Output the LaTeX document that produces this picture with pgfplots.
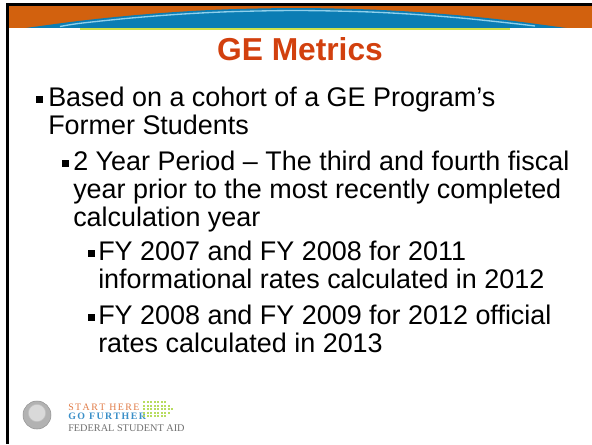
\documentclass[border=0pt]{standalone}
\usepackage{pgfplots}
\pgfplotsset{compat=1.18}
\usepackage{fontspec}
\setmainfont{Liberation Sans}
\newfontfamily\serifl{Liberation Serif}
\definecolor{bandorange}{HTML}{D2610E}
\definecolor{bandblue}{HTML}{0B7DB4}
\definecolor{lightblue}{HTML}{8FD0EC}
\definecolor{ygreen}{HTML}{CFE04A}
\definecolor{titlered}{HTML}{D2400E}
\definecolor{logoorange}{HTML}{E07A45}
\definecolor{logoblue}{HTML}{3A8FC8}
\definecolor{logogrey}{HTML}{707070}
\definecolor{dotgreen}{HTML}{B8DC60}
\newcommand{\body}{\fontsize{20.2pt}{22pt}\selectfont}
\newcommand{\ls}{\kern1.1pt}
\begin{document}
\begin{tikzpicture}
\begin{axis}[
  scale only axis, width=444pt, height=333pt,
  xmin=0, xmax=592, ymin=0, ymax=444, y dir=reverse,
  axis lines=none, clip=true,
]
% black frame
\addplot[fill=black, draw=none] coordinates {(5.5,3) (592,3) (592,5.5) (5.5,5.5)} -- cycle;
\addplot[fill=black, draw=none] coordinates {(5.5,3) (8.5,3) (8.5,444) (5.5,444)} -- cycle;
% orange band
\addplot[fill=bandorange, draw=none] coordinates {(8.5,5.5) (592,5.5) (592,28) (8.5,28)} -- cycle;
% blue lens
\addplot[fill=bandblue, draw=none, smooth] coordinates {
 (20,29) (30,27.4) (80,20.8) (130,15.6) (180,11.7) (230,9.2) (296,8) (362,9.2) (412,11.7) (462,15.6) (512,20.8) (562,27.4) (575,29)} -- cycle;
% light blue highlight
\addplot[draw=lightblue, line width=1pt, smooth] coordinates {
 (60,26.5) (80,23.3) (130,18.1) (180,14.2) (230,11.7) (296,10.5) (362,11.7) (412,14.2) (462,18.1) (512,23.3) (535,26)};
% white below
\addplot[fill=white, draw=none] coordinates {(8.5,28) (592,28) (592,35) (8.5,35)} -- cycle;
% yellow-green line
\addplot[draw=ygreen, line width=1.3pt] coordinates {(80,29) (510,29)};
% title
\node[anchor=base, font=\fontsize{23.8pt}{26pt}\selectfont\bfseries, text=titlered, inner sep=0pt] at (axis cs:300,60) {GE Metrics};
% bullets
\addplot[only marks, mark=square*, mark size=2.2pt, color=black] coordinates {
 (39,99) (65.5,163) (91.5,253) (91.5,317)};
% body text
\node[anchor=base west, font=\body, inner sep=0pt] at (axis cs:48,106) {Based on a cohort of a GE Program’s};
\node[anchor=base west, font=\body, inner sep=0pt] at (axis cs:48,134) {Former Students};
\node[anchor=base west, font=\body, inner sep=0pt] at (axis cs:73,170) {2 Year Period – The third and fourth fiscal};
\node[anchor=base west, font=\body, inner sep=0pt] at (axis cs:73,198) {year prior to the most recently completed};
\node[anchor=base west, font=\body, inner sep=0pt] at (axis cs:73,226) {calculation year};
\node[anchor=base west, font=\body, inner sep=0pt] at (axis cs:98,260) {FY 2007 and FY 2008 for 2011};
\node[anchor=base west, font=\body, inner sep=0pt] at (axis cs:98,288) {informational rates calculated in 2012};
\node[anchor=base west, font=\body, inner sep=0pt] at (axis cs:98,324) {FY 2008 and FY 2009 for 2012 official};
\node[anchor=base west, font=\body, inner sep=0pt] at (axis cs:98,352) {rates calculated in 2013};
% logo seal
\addplot[only marks, mark=*, mark size=10.5pt, mark options={fill=gray!60, draw=gray!85}] coordinates {(37,415)};
\addplot[only marks, mark=*, mark size=6.5pt, mark options={fill=gray!30, draw=gray!50}] coordinates {(37,413)};
\node[anchor=base, font=\fontsize{10pt}{10pt}\selectfont\bfseries\itshape, text=white, inner sep=0pt] at (axis cs:48,428) {22};
% logo text
\node[anchor=base west, font=\serifl\fontsize{7.4pt}{8pt}\selectfont, text=logoorange, inner sep=0pt] at (axis cs:68,410) {S\ls T\ls A\ls R\ls T\ \ls H\ls E\ls R\ls E};
\node[anchor=base west, font=\serifl\fontsize{7.4pt}{8pt}\selectfont\bfseries, text=logoblue, inner sep=0pt] at (axis cs:68,419.5) {G\ls O\ \ls F\ls U\ls R\ls T\ls H\ls E\ls R};
\node[anchor=base west, font=\serifl\fontsize{7.7pt}{8pt}\selectfont, text=logogrey, inner sep=0pt] at (axis cs:68,431) {FEDERAL STUDENT AID};
% dotted arrow
\addplot[only marks, mark=square*, mark size=0.42pt, color=dotgreen] coordinates {
 (144,402) (147.5,402) (151,402) (154.5,402) (158,402) (161.5,402) (165,402)
 (144,405.5) (147.5,405.5) (151,405.5) (154.5,405.5) (158,405.5) (161.5,405.5) (165,405.5) (168.5,405.5)
 (144,409) (147.5,409) (151,409) (154.5,409) (158,409) (161.5,409) (165,409) (168.5,409) (172,409)
 (144,412.5) (147.5,412.5) (151,412.5) (154.5,412.5) (158,412.5) (161.5,412.5) (165,412.5) (168.5,412.5)
 (144,416) (147.5,416) (151,416) (154.5,416) (158,416) (161.5,416) (165,416)};
\end{axis}
\pgfresetboundingbox
\path (current axis.south west) rectangle (current axis.north east);
\end{tikzpicture}
\end{document}
